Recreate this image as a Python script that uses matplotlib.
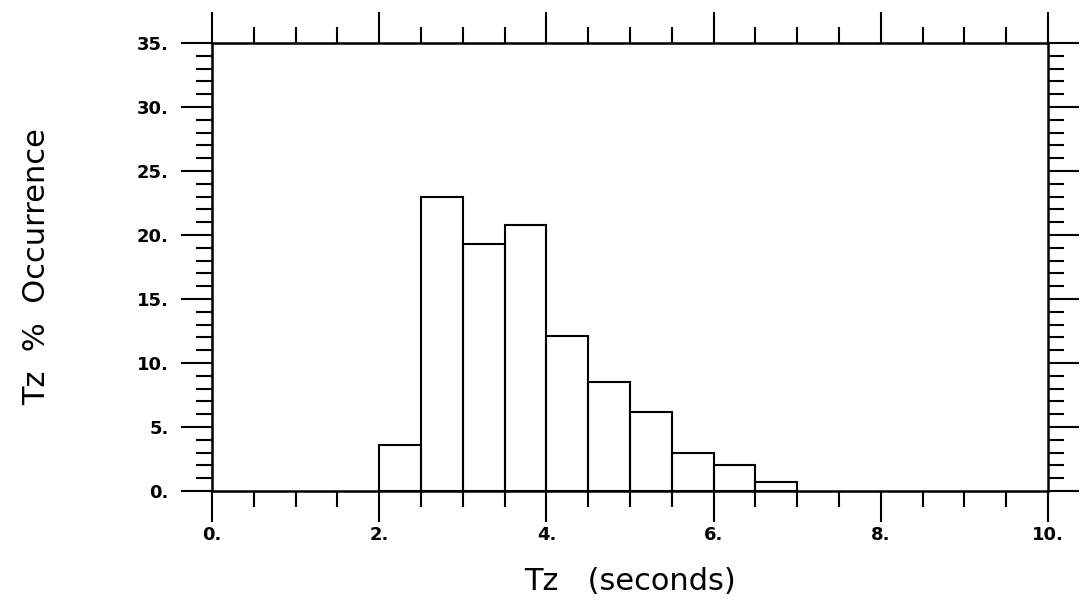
import matplotlib
matplotlib.use("Agg")
import matplotlib.pyplot as plt
from matplotlib.ticker import MultipleLocator, FormatStrFormatter

# Tz histogram, bins of 0.5 s
bin_left = [2.0, 2.5, 3.0, 3.5, 4.0, 4.5, 5.0, 5.5, 6.0, 6.5]
pct = [3.6, 23.0, 19.3, 20.8, 12.1, 8.5, 6.2, 3.0, 2.0, 0.7]
bin_width = 0.5

fig = plt.figure(figsize=(10.81, 6.11), dpi=100)
ax = fig.add_axes([0.1961, 0.1964, 0.7734, 0.7332])

ax.bar(bin_left, pct, width=bin_width, align='edge', fill=False,
       edgecolor='black', linewidth=1.5)

ax.set_xlim(0, 10)
ax.set_ylim(0, 35)

ax.xaxis.set_major_locator(MultipleLocator(2))
ax.xaxis.set_minor_locator(MultipleLocator(0.5))
ax.yaxis.set_major_locator(MultipleLocator(5))
ax.yaxis.set_minor_locator(MultipleLocator(1))
ax.xaxis.set_major_formatter(FormatStrFormatter('%d.'))
ax.yaxis.set_major_formatter(FormatStrFormatter('%d.'))

for s in ax.spines.values():
    s.set_linewidth(1.8)

ax.tick_params(which='both', direction='out', top=True, right=True,
               labeltop=False, labelright=False, width=1.5)
ax.tick_params(which='major', length=22)
ax.tick_params(which='minor', length=11.5)
ax.tick_params(axis='x', which='major', pad=3.5, labelsize=13)
ax.tick_params(axis='y', which='major', pad=9, labelsize=13)
for lab in ax.get_xticklabels() + ax.get_yticklabels():
    lab.set_fontweight('bold')

ax.set_xlabel('Tz   (seconds)', fontsize=22, labelpad=16)
ax.set_ylabel('Tz  %  Occurrence', fontsize=22, labelpad=62)

fig.savefig('out.png', dpi=100)
